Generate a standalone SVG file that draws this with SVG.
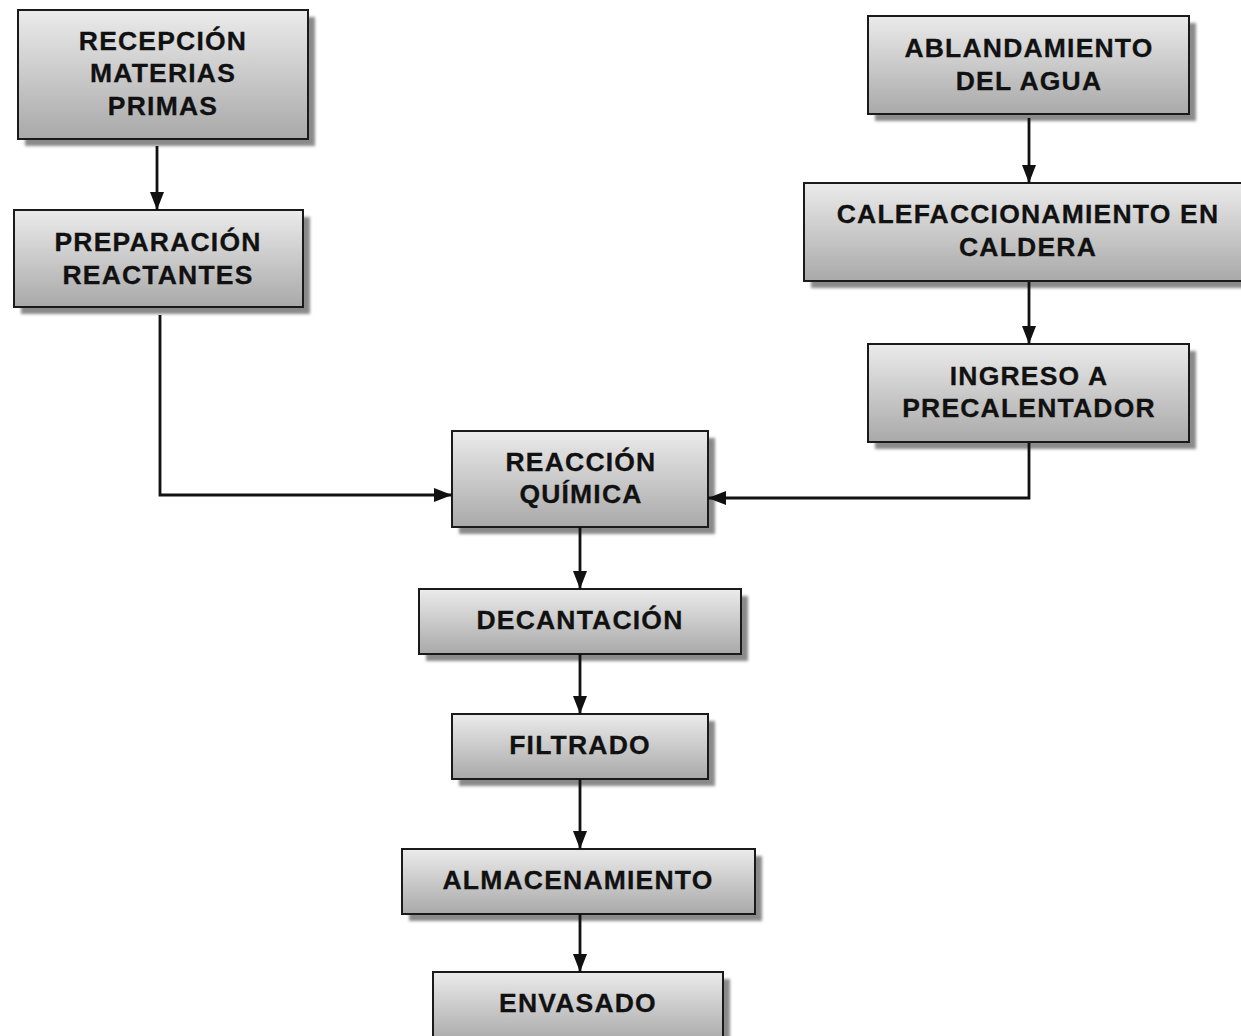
<svg xmlns="http://www.w3.org/2000/svg" width="1241" height="1036" viewBox="0 0 1241 1036">
<defs>
<linearGradient id="g" x1="0" y1="0" x2="0" y2="1">
<stop offset="0" stop-color="#ebebeb"/>
<stop offset="1" stop-color="#a9a9a9"/>
</linearGradient>
<filter id="blur" x="-10%" y="-10%" width="120%" height="130%"><feGaussianBlur stdDeviation="1.5"/></filter>
<marker id="ah" viewBox="0 0 18 14" refX="18" refY="7" markerWidth="18" markerHeight="14" markerUnits="userSpaceOnUse" orient="auto">
<path d="M0,0 L18,7 L0,14 z" fill="#111"/>
</marker>
</defs>
<style>
.sh{fill:#8a8a8a;filter:url(#blur)}
.bx{fill:url(#g);stroke:#1a1a1a;stroke-width:2}
.t{font-family:"Liberation Sans",Arial,sans-serif;font-weight:bold;font-size:26.5px;letter-spacing:1.2px;fill:#111;text-anchor:middle;stroke:#111;stroke-width:0.3}
.c{fill:none;stroke:#111;stroke-width:2.8}
</style>
<rect width="1241" height="1036" fill="#fff"/>
<g id="n1"><rect class="sh" x="25" y="17" width="290" height="129"/><rect class="bx" x="18" y="10" width="290" height="129"/><text class="t" x="163" y="50">RECEPCIÓN</text><text class="t" x="163" y="82">MATERIAS</text><text class="t" x="163" y="115">PRIMAS</text></g>
<g id="n2"><rect class="sh" x="21" y="217" width="289" height="97"/><rect class="bx" x="14" y="210" width="289" height="97"/><text class="t" x="158" y="251">PREPARACIÓN</text><text class="t" x="158" y="284">REACTANTES</text></g>
<g id="n3"><rect class="sh" x="875" y="23" width="321" height="98"/><rect class="bx" x="868" y="16" width="321" height="98"/><text class="t" x="1029" y="57">ABLANDAMIENTO</text><text class="t" x="1029" y="90">DEL AGUA</text></g>
<g id="n4"><rect class="sh" x="811" y="190" width="440" height="98"/><rect class="bx" x="804" y="183" width="446" height="98"/><text class="t" x="1028" y="223">CALEFACCIONAMIENTO EN</text><text class="t" x="1028" y="256">CALDERA</text></g>
<g id="n5"><rect class="sh" x="875" y="351" width="321" height="98"/><rect class="bx" x="868" y="344" width="321" height="98"/><text class="t" x="1029" y="385">INGRESO A</text><text class="t" x="1029" y="417">PRECALENTADOR</text></g>
<g id="n6"><rect class="sh" x="459" y="438" width="256" height="96"/><rect class="bx" x="452" y="431" width="256" height="96"/><text class="t" x="581" y="471">REACCIÓN</text><text class="t" x="581" y="503">QUÍMICA</text></g>
<g id="n7"><rect class="sh" x="426" y="596" width="322" height="65"/><rect class="bx" x="419" y="589" width="322" height="65"/><text class="t" x="580" y="629">DECANTACIÓN</text></g>
<g id="n8"><rect class="sh" x="459" y="721" width="256" height="65"/><rect class="bx" x="452" y="714" width="256" height="65"/><text class="t" x="580" y="754">FILTRADO</text></g>
<g id="n9"><rect class="sh" x="409" y="856" width="353" height="65"/><rect class="bx" x="402" y="849" width="353" height="65"/><text class="t" x="578" y="889">ALMACENAMIENTO</text></g>
<g id="n10"><rect class="sh" x="440" y="979" width="290" height="65"/><rect class="bx" x="433" y="972" width="290" height="70"/><text class="t" x="578" y="1012">ENVASADO</text></g>
<g id="connectors">
<path class="c" d="M157,146 V210" marker-end="url(#ah)"/>
<path class="c" d="M1029,118 V183" marker-end="url(#ah)"/>
<path class="c" d="M1029,282 V344" marker-end="url(#ah)"/>
<path class="c" d="M160,315 V495 H452" marker-end="url(#ah)"/>
<path class="c" d="M1029,443 V498 H708" marker-end="url(#ah)"/>
<path class="c" d="M580,527 V589" marker-end="url(#ah)"/>
<path class="c" d="M580,654 V714" marker-end="url(#ah)"/>
<path class="c" d="M580,779 V849" marker-end="url(#ah)"/>
<path class="c" d="M580,914 V972" marker-end="url(#ah)"/>
</g>
</svg>
